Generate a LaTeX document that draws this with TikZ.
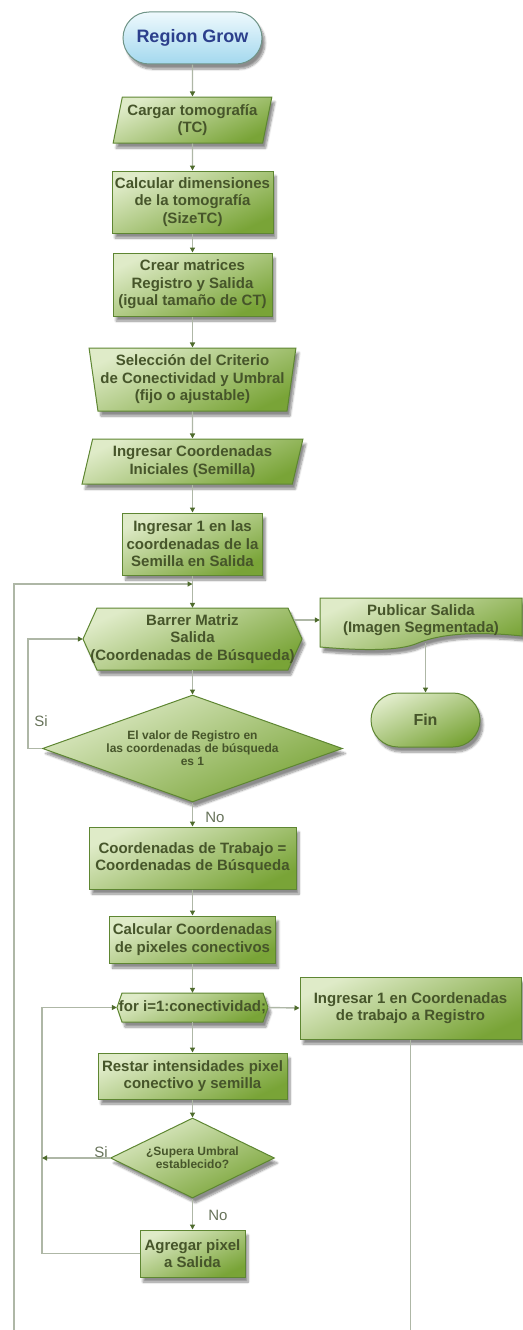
\documentclass[tikz,border=0pt]{standalone}
\usepackage{fontspec}
\setmainfont{Liberation Sans}
\usetikzlibrary{arrows.meta,shapes.geometric,shapes.misc,shadows.blur}
\definecolor{leaf}{HTML}{DFEBC8}
\definecolor{leafdark}{HTML}{79A437}
\definecolor{leafline}{HTML}{5E8632}
\definecolor{leaftext}{HTML}{46552A}
\definecolor{sky}{HTML}{EEF9FD}
\definecolor{skydark}{HTML}{A3D8EE}
\definecolor{skyline}{HTML}{6F9487}
\definecolor{skytext}{HTML}{2C3F8C}
\definecolor{wire}{HTML}{AEB7A6}
\definecolor{tipc}{HTML}{4E6B2C}
\definecolor{note}{HTML}{67735A}

\begin{document}
\begin{tikzpicture}[x=1pt, y=1pt, leaftext,
  font=\fontsize{15}{17.5}\selectfont\bfseries,
  >={Triangle[length=5pt,width=5pt,color=tipc]},
  flow/.style={->, wire, line width=1.4pt},
  link/.style={wire, line width=1.4pt},
  lab/.style={note, font=\fontsize{15}{17}\selectfont},
  box/.style={draw=leafline, line width=1pt, top color=leaf, bottom color=leafdark,
              shading angle=25, align=center, inner sep=0pt,
              blur shadow={shadow xshift=3pt, shadow yshift=-5pt, shadow blur steps=8, shadow opacity=45}},
  plain/.style={rectangle, align=center, inner sep=0pt},
  proc/.style={box, rectangle},
  io/.style={box, trapezium, trapezium left angle=75, trapezium right angle=105, trapezium stretches=true},
  manual/.style={box, trapezium, trapezium left angle=80, trapezium right angle=80,
                 shape border rotate=180, trapezium stretches=true},
  term/.style={box, rounded rectangle},
  decision/.style={box, diamond, font=\fontsize{12}{13}\selectfont\bfseries}]

\useasboundingbox (0,0) rectangle (522,-1330);

% start
\node[term, draw=skyline, top color=sky, bottom color=skydark, text=skytext,
      font=\fontsize{18}{20}\selectfont\bfseries,
      minimum width=139, minimum height=52] (start) at (192.5,-38) {Region Grow};

% loading and set up
\node[io, minimum width=159, minimum height=46] (cargar) at (192.5,-120)
  {Cargar tomografía\\(TC)};
\node[proc, minimum width=161, minimum height=62] (calcdim) at (192.5,-202)
  {Calcular dimensiones\\de la tomografía\\(SizeTC)};
\node[proc, minimum width=159, minimum height=63] (crear) at (192.5,-284.5)
  {Crear matrices\\Registro y Salida\\(igual tamaño de CT)};
\node[manual, minimum width=207, minimum height=63] (seleccion) at (192.5,-379.5)
  {Selección del Criterio\\de Conectividad y Umbral\\(fijo o ajustable)};
\node[io, minimum width=221, minimum height=45] (iniciales) at (192.5,-461.5)
  {Ingresar Coordenadas\\Iniciales (Semilla)};
\node[proc, minimum width=140, minimum height=62] (semilla) at (192.5,-544)
  {Ingresar 1 en las\\coordenadas de la\\Semilla en Salida};

% scan of the output matrix (hexagon drawn by hand)
\path[box] (83,-639) -- (97,-608) -- (288,-608) -- (302,-639) -- (288,-670) -- (97,-670) -- cycle;
\node[plain, minimum width=219, minimum height=62] (barrer) at (192.5,-639)
  {Barrer Matriz\\Salida\\(Coordenadas de Búsqueda)};
\node[decision, aspect=2.8, minimum width=300, minimum height=107] (dec1) at (192.5,-748.5)
  {El valor de Registro en\\las coordenadas de búsqueda\\es 1};
\node[proc, minimum width=207, minimum height=62] (trabajo) at (192.5,-858)
  {Coordenadas de Trabajo =\\Coordenadas de Búsqueda};
\node[proc, minimum width=166, minimum height=47] (calccoord) at (192.5,-939.5)
  {Calcular Coordenadas\\de pixeles conectivos};

% loop over the neighbours
\path[box] (117,-1007.5) -- (122,-993) -- (263,-993) -- (268,-1007.5) -- (263,-1022) -- (122,-1022) -- cycle;
\node[plain, minimum width=151, minimum height=29] (forloop) at (192.5,-1007.5)
  {for i=1:conectividad;};
\node[proc, minimum width=221, minimum height=62] (registro) at (410.5,-1008)
  {Ingresar 1 en Coordenadas\\de trabajo a Registro};
\node[proc, minimum width=189, minimum height=46] (restar) at (192.5,-1076)
  {Restar intensidades pixel\\conectivo y semilla};
\node[decision, aspect=2.05, minimum width=164, minimum height=80] (dec2) at (192.5,-1158)
  {¿Supera Umbral\\establecido?};
\node[proc, minimum width=105, minimum height=47] (agregar) at (192.5,-1253.5)
  {Agregar pixel\\a Salida};

% output and end
\path[box] (320,-598) -- (522,-598) -- (522,-636)
  .. controls (475,-631) and (440,-634) .. (418,-643)
  .. controls (398,-652) and (355,-650) .. (320,-647) -- cycle;
\node[plain, minimum width=202, minimum height=46] (publicar) at (421,-620)
  {Publicar Salida\\(Imagen Segmentada)};
\node[term, minimum width=109, minimum height=54, font=\fontsize{16}{18}\selectfont\bfseries]
  (fin) at (425.5,-720) {Fin};

% main column
\foreach \a/\b in {start/cargar, cargar/calcdim, calcdim/crear, crear/seleccion,
                   seleccion/iniciales, iniciales/semilla, semilla/barrer, barrer/dec1,
                   dec1/trabajo, trabajo/calccoord, calccoord/forloop, forloop/restar,
                   restar/dec2, dec2/agregar}
  \draw[flow] (\a) -- (\b);

% branches
\coordinate (rejoin) at (192.5,-584);
\coordinate (outerfoot) at (14,-1330);
\coordinate (retry) at (28,-748.5);
\coordinate (back) at (42,-1253.5);
\draw[flow] (outerfoot) |- (rejoin);
\draw[flow] (dec1.west) -- (retry) |- (barrer.west);
\draw[flow] ([xshift=-8.5pt]barrer.east |- publicar.west) -- (publicar.west);
\draw[flow] (fin.north |- publicar.south) -- (fin.north);
\draw[flow] (forloop.east) -- (registro.west);
\draw[link] (registro.south) -- (registro.south |- outerfoot);
\draw[flow] (agregar.west) -- (back) |- (forloop.west);
\draw[flow] (dec2.west) -- (dec2.west -| back);

% answers
\node[lab] (si1) at (41,-721) {Si};
\node[lab] (no1) at (215,-817) {No};
\node[lab] (si2) at (101,-1152) {Si};
\node[lab] (no2) at (218,-1215) {No};

\end{tikzpicture}
\end{document}
